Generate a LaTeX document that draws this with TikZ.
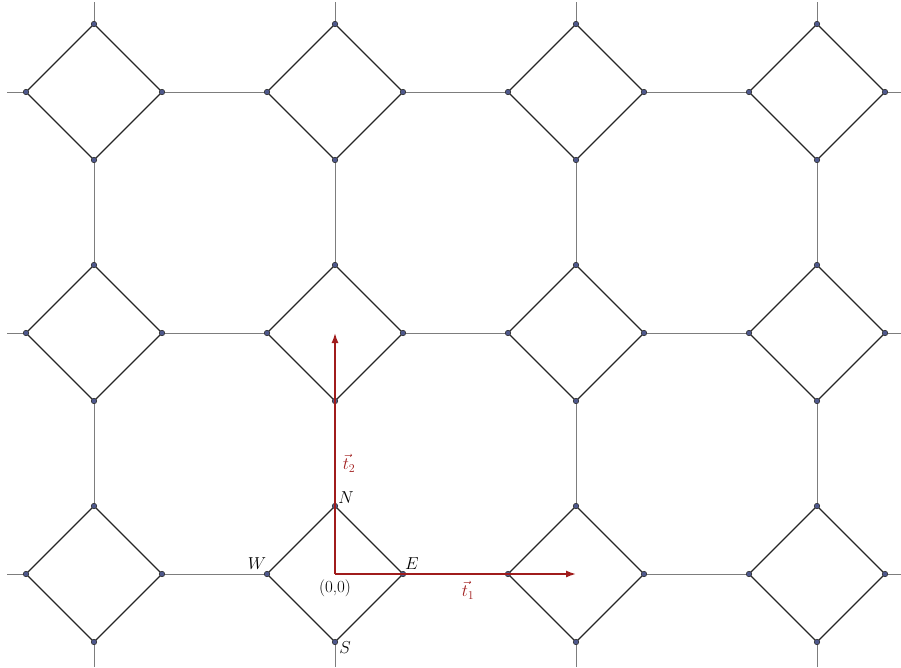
\documentclass[tikz,border=0pt]{standalone}
\usetikzlibrary{arrows.meta}
\definecolor{vecred}{RGB}{160,28,28}
\definecolor{dotfill}{RGB}{78,88,140}
\definecolor{gridgray}{RGB}{125,125,125}
\begin{document}
\begin{tikzpicture}[x=1pt,y=-1pt,
  gridline/.style={draw=gridgray,line width=0.9pt},
  edge/.style={draw=black!85,line width=1.3pt},
  vecline/.style={draw=vecred,line width=1.5pt,-{Latex[length=10pt,width=7pt]}},
  dot/.style={circle,draw=black!80,fill=dotfill,inner sep=0pt,minimum size=5.5pt,line width=0.6pt},
  lab/.style={font=\fontsize{17}{20}\selectfont},
  veclab/.style={font=\fontsize{17}{20}\selectfont,text=vecred}]
\useasboundingbox (0,0) rectangle (901,667);
% diamond centres and vertices
\foreach \i in {0,1,2,3}{
  \foreach \j in {0,1,2}{
    \pgfmathsetmacro{\cx}{94+241*\i}
    \pgfmathsetmacro{\cy}{92+241*\j}
    \coordinate (c-\i-\j) at (\cx,\cy);
    \coordinate (n-\i-\j) at (\cx,\cy-68);
    \coordinate (s-\i-\j) at (\cx,\cy+68);
    \coordinate (w-\i-\j) at (\cx-68,\cy);
    \coordinate (e-\i-\j) at (\cx+68,\cy);
  }
}
% border coordinates
\foreach \j in {0,1,2}{
  \pgfmathsetmacro{\cy}{92+241*\j}
  \coordinate (lb-\j) at (7,\cy);
  \coordinate (rb-\j) at (901,\cy);
}
\foreach \i in {0,1,2,3}{
  \pgfmathsetmacro{\cx}{94+241*\i}
  \coordinate (tb-\i) at (\cx,2);
  \coordinate (bb-\i) at (\cx,667);
}
% grid lines
\foreach \j in {0,1,2}{
  \draw[gridline] (lb-\j) -- (w-0-\j);
  \draw[gridline] (e-3-\j) -- (rb-\j);
  \foreach \i/\k in {0/1,1/2,2/3}{
    \draw[gridline] (e-\i-\j) -- (w-\k-\j);
  }
}
\foreach \i in {0,1,2,3}{
  \draw[gridline] (tb-\i) -- (n-\i-0);
  \draw[gridline] (s-\i-0) -- (n-\i-1);
  \draw[gridline] (s-\i-1) -- (n-\i-2);
  \draw[gridline] (s-\i-2) -- (bb-\i);
}
% diamonds
\foreach \i in {0,1,2,3}{
  \foreach \j in {0,1,2}{
    \draw[edge] (n-\i-\j) -- (e-\i-\j) -- (s-\i-\j) -- (w-\i-\j) -- cycle;
  }
}
% vertex dots
\foreach \i in {0,1,2,3}{
  \foreach \j in {0,1,2}{
    \node[dot] (dn-\i-\j) at (n-\i-\j) {};
    \node[dot] (ds-\i-\j) at (s-\i-\j) {};
    \node[dot] (dw-\i-\j) at (w-\i-\j) {};
    \node[dot] (de-\i-\j) at (e-\i-\j) {};
  }
}
% lattice vectors
\draw[vecline] (c-1-2) -- (c-2-2);
\draw[vecline] (c-1-2) -- (c-1-1);
% labels
\node[lab] (labN) at (346,498) {$N$};
\node[lab] (labE) at (412,564) {$E$};
\node[lab] (labW) at (257,564) {$W$};
\node[lab] (labS) at (345,648) {$S$};
\node[lab] (labO) at (335,588) {(0,0)};
\node[veclab] (labt1) at (468,590) {$\vec{t}_1$};
\node[veclab] (labt2) at (349,463) {$\vec{t}_2$};
\end{tikzpicture}
\end{document}
